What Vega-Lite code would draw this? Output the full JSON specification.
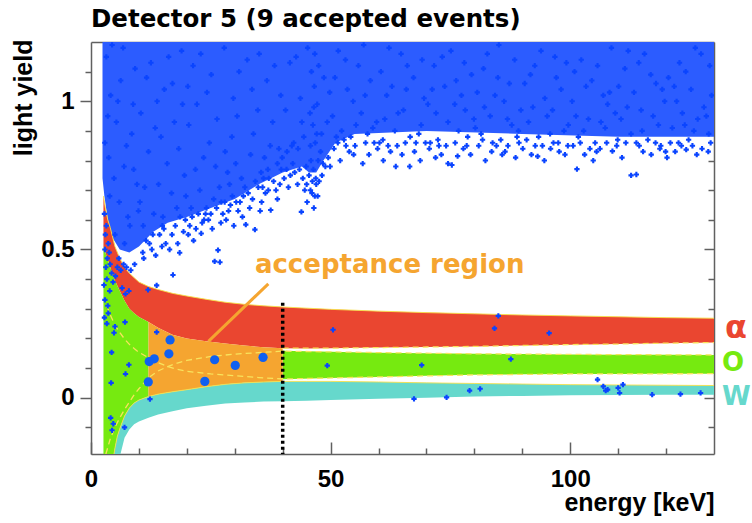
{
  "$schema": "https://vega.github.io/schema/vega-lite/v6.json",
  "width": 623,
  "height": 412,
  "autosize": {"type": "none"},
  "padding": {"left": 91, "top": 42, "right": 38, "bottom": 69},
  "background": "white",
  "title": {
    "text": "Detector 5 (9 accepted events)",
    "anchor": "start",
    "frame": "group",
    "font": "DejaVu Sans",
    "fontSize": 24.5,
    "fontWeight": "bold",
    "color": "#000000",
    "offset": 7
  },
  "config": {
    "view": {"stroke": null},
    "axis": {
      "grid": false,
      "domainColor": "#606060",
      "domainWidth": 1.5,
      "tickColor": "#606060",
      "tickWidth": 1.5,
      "labelFont": "Liberation Sans",
      "labelFontWeight": "bold",
      "labelFontSize": 24,
      "labelColor": "#000000",
      "titleFont": "Liberation Sans",
      "titleFontWeight": "bold",
      "titleFontSize": 25,
      "titleColor": "#000000"
    }
  },
  "datasets": {
    "cloud": [
      {"e": 2.4, "ly": 0.74}, {"e": 2.8, "ly": 0.68}, {"e": 3.5, "ly": 0.6}, {"e": 4.5, "ly": 0.54},
      {"e": 6, "ly": 0.5}, {"e": 8, "ly": 0.49}, {"e": 10, "ly": 0.51}, {"e": 13, "ly": 0.56},
      {"e": 16, "ly": 0.59}, {"e": 20, "ly": 0.61}, {"e": 25, "ly": 0.64}, {"e": 30, "ly": 0.67},
      {"e": 35, "ly": 0.72}, {"e": 40, "ly": 0.76}, {"e": 44, "ly": 0.78}, {"e": 45.5, "ly": 0.76},
      {"e": 47, "ly": 0.76}, {"e": 48.5, "ly": 0.8}, {"e": 51, "ly": 0.86}, {"e": 55, "ly": 0.89},
      {"e": 70, "ly": 0.9}, {"e": 90, "ly": 0.89}, {"e": 110, "ly": 0.88}, {"e": 130, "ly": 0.88}
    ],
    "bands": [
      {"band": "α", "seg": "a", "e": 2.6, "ly": 0.68, "ly2": 0.51},
      {"band": "α", "seg": "a", "e": 3, "ly": 0.64, "ly2": 0.49},
      {"band": "α", "seg": "a", "e": 3.5, "ly": 0.6, "ly2": 0.465},
      {"band": "α", "seg": "a", "e": 4, "ly": 0.575, "ly2": 0.44},
      {"band": "α", "seg": "a", "e": 5, "ly": 0.51, "ly2": 0.395},
      {"band": "α", "seg": "a", "e": 6, "ly": 0.47, "ly2": 0.36},
      {"band": "α", "seg": "a", "e": 7, "ly": 0.44, "ly2": 0.327},
      {"band": "α", "seg": "a", "e": 8, "ly": 0.42, "ly2": 0.3},
      {"band": "α", "seg": "a", "e": 9, "ly": 0.405, "ly2": 0.285},
      {"band": "α", "seg": "a", "e": 10, "ly": 0.39, "ly2": 0.272},
      {"band": "α", "seg": "a", "e": 12, "ly": 0.375, "ly2": 0.255},
      {"band": "α", "seg": "a", "e": 14, "ly": 0.365, "ly2": 0.236},
      {"band": "α", "seg": "a", "e": 17, "ly": 0.352, "ly2": 0.212},
      {"band": "α", "seg": "a", "e": 20, "ly": 0.343, "ly2": 0.2},
      {"band": "α", "seg": "a", "e": 24, "ly": 0.332, "ly2": 0.19},
      {"band": "α", "seg": "a", "e": 28, "ly": 0.322, "ly2": 0.183},
      {"band": "α", "seg": "a", "e": 32, "ly": 0.315, "ly2": 0.176},
      {"band": "α", "seg": "a", "e": 36, "ly": 0.31, "ly2": 0.17},
      {"band": "α", "seg": "a", "e": 40, "ly": 0.306, "ly2": 0.167},
      {"band": "α", "seg": "a", "e": 45, "ly": 0.302, "ly2": 0.166},
      {"band": "α", "seg": "a", "e": 50, "ly": 0.298, "ly2": 0.167},
      {"band": "α", "seg": "a", "e": 60, "ly": 0.292, "ly2": 0.169},
      {"band": "α", "seg": "a", "e": 70, "ly": 0.287, "ly2": 0.171},
      {"band": "α", "seg": "a", "e": 80, "ly": 0.283, "ly2": 0.173},
      {"band": "α", "seg": "a", "e": 90, "ly": 0.279, "ly2": 0.176},
      {"band": "α", "seg": "a", "e": 100, "ly": 0.276, "ly2": 0.179},
      {"band": "α", "seg": "a", "e": 110, "ly": 0.273, "ly2": 0.181},
      {"band": "α", "seg": "a", "e": 120, "ly": 0.27, "ly2": 0.184},
      {"band": "α", "seg": "a", "e": 130, "ly": 0.268, "ly2": 0.186},
      {"band": "O", "seg": "o1", "e": 2.6, "ly": 0.51, "ly2": -0.3},
      {"band": "O", "seg": "o1", "e": 3, "ly": 0.49, "ly2": -0.3},
      {"band": "O", "seg": "o1", "e": 3.5, "ly": 0.465, "ly2": -0.3},
      {"band": "O", "seg": "o1", "e": 4, "ly": 0.44, "ly2": -0.3},
      {"band": "O", "seg": "o1", "e": 4.8, "ly": 0.404, "ly2": -0.19},
      {"band": "O", "seg": "o1", "e": 5, "ly": 0.395, "ly2": -0.17},
      {"band": "O", "seg": "o1", "e": 5.5, "ly": 0.378, "ly2": -0.13},
      {"band": "O", "seg": "o1", "e": 6, "ly": 0.36, "ly2": -0.105},
      {"band": "O", "seg": "o1", "e": 7, "ly": 0.327, "ly2": -0.062},
      {"band": "O", "seg": "o1", "e": 8, "ly": 0.3, "ly2": -0.035},
      {"band": "O", "seg": "o1", "e": 9, "ly": 0.285, "ly2": -0.018},
      {"band": "O", "seg": "o1", "e": 10, "ly": 0.272, "ly2": -0.008},
      {"band": "O", "seg": "o1", "e": 12, "ly": 0.255, "ly2": 0.004},
      {"band": "O", "seg": "o2", "e": 40, "ly": 0.158, "ly2": 0.062},
      {"band": "O", "seg": "o2", "e": 50, "ly": 0.155, "ly2": 0.066},
      {"band": "O", "seg": "o2", "e": 60, "ly": 0.152, "ly2": 0.07},
      {"band": "O", "seg": "o2", "e": 70, "ly": 0.15, "ly2": 0.074},
      {"band": "O", "seg": "o2", "e": 80, "ly": 0.148, "ly2": 0.077},
      {"band": "O", "seg": "o2", "e": 90, "ly": 0.147, "ly2": 0.079},
      {"band": "O", "seg": "o2", "e": 100, "ly": 0.146, "ly2": 0.08},
      {"band": "O", "seg": "o2", "e": 110, "ly": 0.145, "ly2": 0.08},
      {"band": "O", "seg": "o2", "e": 120, "ly": 0.145, "ly2": 0.081},
      {"band": "O", "seg": "o2", "e": 130, "ly": 0.144, "ly2": 0.081},
      {"band": "acc", "seg": "acc", "e": 12, "ly": 0.255, "ly2": 0.004},
      {"band": "acc", "seg": "acc", "e": 14, "ly": 0.236, "ly2": 0.012},
      {"band": "acc", "seg": "acc", "e": 17, "ly": 0.212, "ly2": 0.02},
      {"band": "acc", "seg": "acc", "e": 20, "ly": 0.2, "ly2": 0.027},
      {"band": "acc", "seg": "acc", "e": 24, "ly": 0.19, "ly2": 0.037},
      {"band": "acc", "seg": "acc", "e": 28, "ly": 0.183, "ly2": 0.045},
      {"band": "acc", "seg": "acc", "e": 32, "ly": 0.176, "ly2": 0.05},
      {"band": "acc", "seg": "acc", "e": 36, "ly": 0.17, "ly2": 0.053},
      {"band": "acc", "seg": "acc", "e": 40, "ly": 0.167, "ly2": 0.055},
      {"band": "W", "seg": "w", "e": 4.8, "ly": -0.19, "ly2": -0.3},
      {"band": "W", "seg": "w", "e": 5, "ly": -0.17, "ly2": -0.3},
      {"band": "W", "seg": "w", "e": 5.5, "ly": -0.13, "ly2": -0.26},
      {"band": "W", "seg": "w", "e": 6, "ly": -0.105, "ly2": -0.2},
      {"band": "W", "seg": "w", "e": 7, "ly": -0.062, "ly2": -0.135},
      {"band": "W", "seg": "w", "e": 8, "ly": -0.035, "ly2": -0.107},
      {"band": "W", "seg": "w", "e": 9, "ly": -0.018, "ly2": -0.09},
      {"band": "W", "seg": "w", "e": 10, "ly": -0.008, "ly2": -0.08},
      {"band": "W", "seg": "w", "e": 12, "ly": 0.004, "ly2": -0.068},
      {"band": "W", "seg": "w", "e": 14, "ly": 0.012, "ly2": -0.057},
      {"band": "W", "seg": "w", "e": 17, "ly": 0.02, "ly2": -0.046},
      {"band": "W", "seg": "w", "e": 20, "ly": 0.027, "ly2": -0.036},
      {"band": "W", "seg": "w", "e": 24, "ly": 0.037, "ly2": -0.027},
      {"band": "W", "seg": "w", "e": 28, "ly": 0.045, "ly2": -0.02},
      {"band": "W", "seg": "w", "e": 32, "ly": 0.05, "ly2": -0.016},
      {"band": "W", "seg": "w", "e": 36, "ly": 0.053, "ly2": -0.013},
      {"band": "W", "seg": "w", "e": 40, "ly": 0.055, "ly2": -0.012},
      {"band": "W", "seg": "w", "e": 45, "ly": 0.055, "ly2": -0.01},
      {"band": "W", "seg": "w", "e": 50, "ly": 0.055, "ly2": -0.008},
      {"band": "W", "seg": "w", "e": 60, "ly": 0.053, "ly2": -0.004},
      {"band": "W", "seg": "w", "e": 70, "ly": 0.05, "ly2": 0.0},
      {"band": "W", "seg": "w", "e": 80, "ly": 0.048, "ly2": 0.004},
      {"band": "W", "seg": "w", "e": 90, "ly": 0.046, "ly2": 0.006},
      {"band": "W", "seg": "w", "e": 100, "ly": 0.044, "ly2": 0.008},
      {"band": "W", "seg": "w", "e": 110, "ly": 0.043, "ly2": 0.009},
      {"band": "W", "seg": "w", "e": 120, "ly": 0.042, "ly2": 0.01},
      {"band": "W", "seg": "w", "e": 130, "ly": 0.041, "ly2": 0.01}
    ],
    "dash": [
      {"line": "A", "e": 3.3, "ly": 0.31}, {"line": "A", "e": 4, "ly": 0.28}, {"line": "A", "e": 5, "ly": 0.245},
      {"line": "A", "e": 6, "ly": 0.22}, {"line": "A", "e": 7, "ly": 0.198}, {"line": "A", "e": 8, "ly": 0.18},
      {"line": "A", "e": 9, "ly": 0.166}, {"line": "A", "e": 10, "ly": 0.153}, {"line": "A", "e": 12, "ly": 0.135},
      {"line": "A", "e": 14, "ly": 0.118}, {"line": "A", "e": 16, "ly": 0.105}, {"line": "A", "e": 18, "ly": 0.096},
      {"line": "A", "e": 20, "ly": 0.089}, {"line": "A", "e": 25, "ly": 0.08}, {"line": "A", "e": 30, "ly": 0.074},
      {"line": "A", "e": 35, "ly": 0.068}, {"line": "A", "e": 40, "ly": 0.063}, {"line": "A", "e": 60, "ly": 0.07},
      {"line": "A", "e": 80, "ly": 0.077}, {"line": "A", "e": 100, "ly": 0.08}, {"line": "A", "e": 130, "ly": 0.081},
      {"line": "B", "e": 3.1, "ly": -0.19}, {"line": "B", "e": 4, "ly": -0.14}, {"line": "B", "e": 5, "ly": -0.1},
      {"line": "B", "e": 6, "ly": -0.068}, {"line": "B", "e": 7, "ly": -0.04}, {"line": "B", "e": 8, "ly": -0.015},
      {"line": "B", "e": 9, "ly": 0.01}, {"line": "B", "e": 10, "ly": 0.03}, {"line": "B", "e": 12, "ly": 0.067},
      {"line": "B", "e": 14, "ly": 0.09}, {"line": "B", "e": 16, "ly": 0.105}, {"line": "B", "e": 18, "ly": 0.117},
      {"line": "B", "e": 20, "ly": 0.126}, {"line": "B", "e": 25, "ly": 0.139}, {"line": "B", "e": 30, "ly": 0.147},
      {"line": "B", "e": 35, "ly": 0.152}, {"line": "B", "e": 40, "ly": 0.157}, {"line": "B", "e": 60, "ly": 0.152},
      {"line": "B", "e": 80, "ly": 0.148}, {"line": "B", "e": 100, "ly": 0.146}, {"line": "B", "e": 130, "ly": 0.144},
      {"line": "C", "e": 40, "ly": 0.167}, {"line": "C", "e": 50, "ly": 0.167}, {"line": "C", "e": 60, "ly": 0.169},
      {"line": "C", "e": 70, "ly": 0.171}, {"line": "C", "e": 80, "ly": 0.173}, {"line": "C", "e": 90, "ly": 0.176},
      {"line": "C", "e": 100, "ly": 0.179}, {"line": "C", "e": 110, "ly": 0.181}, {"line": "C", "e": 120, "ly": 0.184},
      {"line": "C", "e": 130, "ly": 0.186}
    ],
    "pts": [
      {"e":2.8,"ly":0.62},{"e":3.0,"ly":0.55},{"e":3.2,"ly":0.58},{"e":2.9,"ly":0.5},{"e":3.4,"ly":0.47},{"e":3.1,"ly":0.44},
      {"e":3.6,"ly":0.52},{"e":3.8,"ly":0.49},{"e":4.0,"ly":0.45},{"e":4.3,"ly":0.42},{"e":3.3,"ly":0.4},{"e":2.7,"ly":0.38},
      {"e":3.9,"ly":0.36},{"e":4.6,"ly":0.39},{"e":5.1,"ly":0.41},{"e":5.5,"ly":0.44},{"e":6.2,"ly":0.43},{"e":5.8,"ly":0.47},
      {"e":6.8,"ly":0.45},{"e":7.4,"ly":0.44},{"e":7.9,"ly":0.36},{"e":7.2,"ly":0.35},{"e":6.5,"ly":0.37},{"e":8.3,"ly":0.43},
      {"e":9.1,"ly":0.45},{"e":2.9,"ly":0.33},{"e":3.5,"ly":0.31},{"e":3.6,"ly":0.285},{"e":2.8,"ly":0.27},{"e":3.3,"ly":0.25},
      {"e":5.0,"ly":0.24},{"e":4.8,"ly":0.219},{"e":7.1,"ly":0.255},{"e":4.3,"ly":0.153},{"e":7.9,"ly":0.111},{"e":7.2,"ly":0.08},
      {"e":4.2,"ly":0.05},{"e":4.1,"ly":-0.068},{"e":4.65,"ly":-0.088},{"e":4.4,"ly":-0.11},{"e":7.0,"ly":-0.1},{"e":12.3,"ly":-0.005},
      {"e":13.7,"ly":0.221},{"e":13.7,"ly":0.379},{"e":11.9,"ly":0.364},
      {"e":3.2,"ly":1.15},{"e":4.1,"ly":1.02},{"e":5.3,"ly":0.93},{"e":6.7,"ly":1.18},{"e":7.4,"ly":0.85},{"e":8.8,"ly":0.99},
      {"e":9.6,"ly":0.72},{"e":3.7,"ly":0.81},{"e":5.9,"ly":0.66},{"e":8.1,"ly":0.58},{"e":4.8,"ly":0.74},{"e":6.2,"ly":1.07},
      {"e":7.7,"ly":0.61},{"e":9.2,"ly":1.11},{"e":3.5,"ly":0.95},{"e":5.0,"ly":0.55},{"e":6.9,"ly":0.78},{"e":8.5,"ly":0.89},
      {"e":9.9,"ly":0.63},{"e":4.4,"ly":1.19},{"e":2.9,"ly":0.86},{"e":7.0,"ly":0.52},{"e":5.6,"ly":1.0},{"e":8.9,"ly":0.77},
      {"e":3.9,"ly":0.68},
      {"e":10.4,"ly":0.96},{"e":11.2,"ly":0.71},{"e":12.5,"ly":1.13},{"e":13.1,"ly":0.62},{"e":14.6,"ly":0.88},{"e":15.3,"ly":1.04},
      {"e":16.8,"ly":0.69},{"e":17.4,"ly":0.93},{"e":18.9,"ly":1.17},{"e":19.5,"ly":0.75},{"e":10.9,"ly":0.58},{"e":12.0,"ly":0.83},
      {"e":13.8,"ly":1.0},{"e":15.9,"ly":0.79},{"e":17.9,"ly":0.64},{"e":19.1,"ly":0.99},{"e":11.6,"ly":1.08},{"e":14.1,"ly":0.72},
      {"e":16.2,"ly":1.15},{"e":18.3,"ly":0.84},{"e":10.2,"ly":0.66},{"e":13.4,"ly":0.91},{"e":15.0,"ly":0.61},{"e":17.0,"ly":1.06},
      {"e":19.8,"ly":0.68},{"e":12.9,"ly":0.55},{"e":14.9,"ly":0.58},{"e":18.6,"ly":0.61},
      {"e":20.4,"ly":0.92},{"e":21.3,"ly":1.12},{"e":22.7,"ly":0.7},{"e":23.5,"ly":0.81},{"e":24.2,"ly":1.03},{"e":25.6,"ly":0.67},
      {"e":26.3,"ly":0.94},{"e":27.8,"ly":1.18},{"e":28.5,"ly":0.76},{"e":29.4,"ly":0.88},{"e":20.9,"ly":0.64},{"e":22.1,"ly":0.99},
      {"e":23.9,"ly":0.62},{"e":25.1,"ly":1.09},{"e":26.8,"ly":0.71},{"e":28.0,"ly":0.83},{"e":29.7,"ly":1.01},{"e":21.8,"ly":0.77},
      {"e":24.7,"ly":0.86},{"e":27.2,"ly":0.66},{"e":20.2,"ly":1.05},{"e":22.9,"ly":1.16},{"e":26.0,"ly":0.78},{"e":28.9,"ly":0.72},
      {"e":23.2,"ly":0.59},{"e":27.5,"ly":0.62},{"e":29.1,"ly":0.65},
      {"e":30.5,"ly":0.95},{"e":31.4,"ly":0.74},{"e":32.6,"ly":1.14},{"e":33.3,"ly":0.82},{"e":34.8,"ly":0.97},{"e":35.5,"ly":0.76},
      {"e":36.7,"ly":1.07},{"e":37.4,"ly":0.85},{"e":38.9,"ly":0.79},{"e":39.6,"ly":1.02},{"e":30.9,"ly":1.1},{"e":32.1,"ly":0.71},
      {"e":33.9,"ly":0.89},{"e":35.1,"ly":1.16},{"e":36.2,"ly":0.81},{"e":37.9,"ly":0.93},{"e":39.2,"ly":0.84},{"e":31.8,"ly":0.68},
      {"e":34.3,"ly":0.73},{"e":38.3,"ly":1.12},{"e":30.2,"ly":0.79},{"e":33.6,"ly":1.04},{"e":36.9,"ly":0.77},{"e":39.9,"ly":0.81},
      {"e":35.8,"ly":0.71},{"e":31.1,"ly":0.66},{"e":37.1,"ly":0.74},
      {"e":40.6,"ly":0.97},{"e":41.5,"ly":1.13},{"e":42.3,"ly":0.86},{"e":43.7,"ly":1.01},{"e":44.4,"ly":0.88},{"e":45.2,"ly":1.18},
      {"e":45.9,"ly":0.8},{"e":46.3,"ly":0.92},{"e":46.6,"ly":1.05},{"e":46.9,"ly":0.74},{"e":47.2,"ly":0.99},{"e":47.5,"ly":1.12},
      {"e":46.1,"ly":0.69},{"e":46.8,"ly":0.86},{"e":45.7,"ly":0.96},{"e":47.9,"ly":0.83},{"e":48.6,"ly":1.08},{"e":49.3,"ly":0.93},
      {"e":40.9,"ly":0.83},{"e":42.8,"ly":1.15},{"e":44.0,"ly":0.93},{"e":48.1,"ly":0.89},{"e":49.8,"ly":1.03},{"e":41.9,"ly":0.85},
      {"e":43.2,"ly":0.84},{"e":44.9,"ly":0.78},{"e":46.4,"ly":0.77},{"e":47.0,"ly":0.72},{"e":46.2,"ly":0.73},{"e":45.5,"ly":0.75},
      {"e":46.0,"ly":1.1},{"e":46.5,"ly":0.98},{"e":47.1,"ly":0.89},{"e":45.8,"ly":0.85},{"e":46.7,"ly":1.16},{"e":47.4,"ly":0.8},
      {"e":50.4,"ly":0.95},{"e":51.6,"ly":1.17},{"e":52.3,"ly":0.9},{"e":53.5,"ly":1.04},{"e":54.2,"ly":0.88},{"e":55.8,"ly":1.12},
      {"e":56.4,"ly":0.96},{"e":57.7,"ly":0.89},{"e":58.3,"ly":1.07},{"e":59.6,"ly":0.93},{"e":50.9,"ly":1.08},{"e":52.8,"ly":0.87},
      {"e":54.7,"ly":1.0},{"e":56.9,"ly":1.19},{"e":58.8,"ly":0.91},{"e":51.2,"ly":0.88},{"e":53.1,"ly":1.14},{"e":55.3,"ly":0.92},
      {"e":57.2,"ly":1.02},{"e":59.1,"ly":0.86},
      {"e":60.5,"ly":1.1},{"e":61.3,"ly":0.94},{"e":62.8,"ly":1.05},{"e":63.4,"ly":0.9},{"e":64.7,"ly":1.16},{"e":65.2,"ly":0.97},
      {"e":66.6,"ly":0.88},{"e":67.3,"ly":1.08},{"e":68.9,"ly":0.92},{"e":69.5,"ly":1.01},{"e":60.9,"ly":0.87},{"e":62.2,"ly":1.18},
      {"e":64.1,"ly":0.96},{"e":66.0,"ly":1.12},{"e":67.8,"ly":0.86},{"e":69.1,"ly":1.14},{"e":61.7,"ly":1.02},{"e":63.9,"ly":0.85},
      {"e":65.8,"ly":1.04},{"e":68.4,"ly":0.89},
      {"e":70.3,"ly":0.99},{"e":71.6,"ly":1.12},{"e":72.4,"ly":0.87},{"e":73.8,"ly":1.05},{"e":74.5,"ly":0.93},{"e":75.1,"ly":1.17},
      {"e":76.7,"ly":0.9},{"e":77.3,"ly":1.02},{"e":78.6,"ly":0.88},{"e":79.4,"ly":1.09},{"e":70.8,"ly":0.86},{"e":72.0,"ly":0.96},
      {"e":73.3,"ly":1.15},{"e":75.9,"ly":0.99},{"e":77.9,"ly":1.13},{"e":79.9,"ly":0.94},{"e":71.2,"ly":1.04},{"e":74.1,"ly":0.85},
      {"e":76.2,"ly":1.07},{"e":78.1,"ly":0.97},
      {"e":80.6,"ly":1.03},{"e":81.4,"ly":0.89},{"e":82.7,"ly":1.16},{"e":83.3,"ly":0.95},{"e":84.9,"ly":1.08},{"e":85.5,"ly":0.87},
      {"e":86.2,"ly":1.0},{"e":87.8,"ly":0.92},{"e":88.4,"ly":1.14},{"e":89.7,"ly":0.97},{"e":80.2,"ly":0.91},{"e":81.9,"ly":1.11},
      {"e":83.8,"ly":0.86},{"e":85.1,"ly":1.19},{"e":86.9,"ly":0.94},{"e":88.9,"ly":0.88},{"e":82.1,"ly":0.98},{"e":84.3,"ly":1.02},
      {"e":87.3,"ly":1.06},{"e":89.2,"ly":0.9},
      {"e":90.5,"ly":1.06},{"e":91.3,"ly":0.93},{"e":92.6,"ly":1.12},{"e":93.4,"ly":0.88},{"e":94.7,"ly":1.01},{"e":95.2,"ly":0.95},
      {"e":96.8,"ly":1.15},{"e":97.5,"ly":0.86},{"e":98.1,"ly":1.04},{"e":99.6,"ly":0.92},{"e":90.9,"ly":0.87},{"e":92.2,"ly":0.98},
      {"e":93.9,"ly":1.17},{"e":95.8,"ly":0.89},{"e":97.1,"ly":1.08},{"e":99.2,"ly":1.13},{"e":91.7,"ly":1.09},{"e":94.2,"ly":0.85},
      {"e":96.3,"ly":0.97},{"e":98.7,"ly":0.9},
      {"e":100.4,"ly":1.0},{"e":101.7,"ly":0.88},{"e":102.3,"ly":1.14},{"e":103.8,"ly":0.94},{"e":104.5,"ly":1.07},{"e":105.2,"ly":0.86},
      {"e":106.9,"ly":1.02},{"e":107.3,"ly":0.91},{"e":108.6,"ly":1.18},{"e":109.4,"ly":0.96},{"e":100.9,"ly":1.1},{"e":102.8,"ly":0.9},
      {"e":104.1,"ly":0.84},{"e":105.7,"ly":1.12},{"e":107.8,"ly":0.99},{"e":109.9,"ly":0.87},{"e":101.2,"ly":0.95},{"e":103.3,"ly":1.05},
      {"e":106.4,"ly":0.93},{"e":108.2,"ly":1.03},
      {"e":110.6,"ly":0.94},{"e":111.4,"ly":1.11},{"e":112.7,"ly":0.89},{"e":113.3,"ly":1.03},{"e":114.8,"ly":0.97},{"e":115.5,"ly":1.16},
      {"e":116.2,"ly":0.87},{"e":117.9,"ly":1.06},{"e":118.4,"ly":0.92},{"e":119.7,"ly":1.0},{"e":110.1,"ly":1.05},{"e":112.1,"ly":1.17},
      {"e":113.8,"ly":0.86},{"e":115.0,"ly":0.9},{"e":116.8,"ly":1.09},{"e":118.9,"ly":0.85},{"e":111.9,"ly":0.98},{"e":114.3,"ly":1.13},
      {"e":117.3,"ly":0.95},{"e":119.2,"ly":1.04},
      {"e":120.5,"ly":1.08},{"e":121.3,"ly":0.91},{"e":122.8,"ly":1.13},{"e":123.4,"ly":0.96},{"e":124.7,"ly":0.87},{"e":125.2,"ly":1.04},
      {"e":126.6,"ly":0.94},{"e":127.3,"ly":1.16},{"e":128.9,"ly":0.89},{"e":129.5,"ly":1.02},{"e":120.9,"ly":0.86},{"e":122.2,"ly":1.0},
      {"e":124.1,"ly":1.1},{"e":125.8,"ly":0.9},{"e":127.9,"ly":0.98},{"e":129.1,"ly":1.12},{"e":121.7,"ly":1.05},{"e":123.9,"ly":0.92},
      {"e":126.1,"ly":1.18},{"e":128.4,"ly":0.95},
      {"e":10.8,"ly":0.49},{"e":11.5,"ly":0.53},{"e":12.7,"ly":0.5},{"e":14.3,"ly":0.55},{"e":15.6,"ly":0.52},{"e":16.4,"ly":0.5},
      {"e":17.1,"ly":0.414},{"e":18.5,"ly":0.489},{"e":19.3,"ly":0.56},{"e":20.6,"ly":0.58},{"e":21.4,"ly":0.53},{"e":23.0,"ly":0.554},
      {"e":24.5,"ly":0.6},{"e":25.3,"ly":0.57},{"e":26.5,"ly":0.498},{"e":26.9,"ly":0.457},{"e":25.8,"ly":0.46},{"e":28.2,"ly":0.6},
      {"e":29.8,"ly":0.58},{"e":30.7,"ly":0.63},{"e":32.3,"ly":0.584},{"e":33.1,"ly":0.64},{"e":34.2,"ly":0.567},{"e":35.6,"ly":0.66},
      {"e":36.4,"ly":0.69},{"e":37.5,"ly":0.633},{"e":38.6,"ly":0.7},{"e":39.4,"ly":0.72},{"e":40.3,"ly":0.74},{"e":41.2,"ly":0.71},
      {"e":42.5,"ly":0.76},{"e":43.9,"ly":0.627},{"e":43.1,"ly":0.72},{"e":44.6,"ly":0.7},{"e":45.1,"ly":0.66},{"e":46.5,"ly":0.64},
      {"e":47.3,"ly":0.68},{"e":48.4,"ly":0.79},{"e":49.5,"ly":0.81},
      {"e":11.0,"ly":0.47},{"e":12.2,"ly":0.52},{"e":13.5,"ly":0.48},{"e":14.8,"ly":0.51},{"e":15.2,"ly":0.57},{"e":16.9,"ly":0.55},
      {"e":17.6,"ly":0.58},{"e":18.1,"ly":0.52},{"e":19.7,"ly":0.6},{"e":20.3,"ly":0.55},{"e":21.1,"ly":0.61},{"e":21.9,"ly":0.57},
      {"e":22.4,"ly":0.62},{"e":23.6,"ly":0.6},{"e":24.1,"ly":0.64},{"e":25.0,"ly":0.62},{"e":26.2,"ly":0.64},{"e":27.1,"ly":0.59},
      {"e":27.9,"ly":0.66},{"e":28.7,"ly":0.63},{"e":29.5,"ly":0.68},{"e":30.3,"ly":0.66},{"e":31.6,"ly":0.61},{"e":32.8,"ly":0.69},
      {"e":33.7,"ly":0.67},{"e":34.9,"ly":0.71},{"e":35.3,"ly":0.63},{"e":36.0,"ly":0.74},{"e":37.0,"ly":0.7},{"e":38.1,"ly":0.73},
      {"e":38.9,"ly":0.67},{"e":39.7,"ly":0.77},{"e":40.8,"ly":0.77},{"e":41.6,"ly":0.75},{"e":42.1,"ly":0.79},{"e":43.5,"ly":0.77},
      {"e":44.2,"ly":0.74},{"e":45.0,"ly":0.72},{"e":45.8,"ly":0.7},{"e":46.7,"ly":0.68},{"e":47.6,"ly":0.73},{"e":48.2,"ly":0.75},
      {"e":48.9,"ly":0.78},{"e":49.9,"ly":0.78},
      {"e":50.7,"ly":0.84},{"e":52.0,"ly":0.8},{"e":53.9,"ly":0.83},{"e":55.1,"ly":0.85},{"e":56.7,"ly":0.79},{"e":58.0,"ly":0.82},
      {"e":59.8,"ly":0.84},{"e":61.0,"ly":0.8},{"e":62.5,"ly":0.83},{"e":63.6,"ly":0.78},{"e":64.9,"ly":0.82},{"e":66.5,"ly":0.78},
      {"e":67.5,"ly":0.83},{"e":68.7,"ly":0.8},{"e":70.6,"ly":0.84},{"e":71.9,"ly":0.81},{"e":73.1,"ly":0.82},{"e":74.5,"ly":0.79},
      {"e":75.3,"ly":0.785},{"e":76.5,"ly":0.815},{"e":77.7,"ly":0.84},{"e":79.2,"ly":0.82},{"e":80.9,"ly":0.85},{"e":82.3,"ly":0.8},
      {"e":83.6,"ly":0.83},{"e":85.8,"ly":0.82},{"e":87.0,"ly":0.85},{"e":88.6,"ly":0.81},{"e":90.1,"ly":0.84},{"e":91.9,"ly":0.82},
      {"e":93.2,"ly":0.814},{"e":94.6,"ly":0.8},{"e":95.9,"ly":0.84},{"e":97.7,"ly":0.83},{"e":98.9,"ly":0.82},{"e":100.6,"ly":0.85},
      {"e":101.4,"ly":0.771},{"e":103.0,"ly":0.82},{"e":104.8,"ly":0.8},{"e":106.2,"ly":0.84},{"e":108.8,"ly":0.832},{"e":110.8,"ly":0.81},
      {"e":112.7,"ly":0.75},{"e":113.8,"ly":0.753},{"e":115.2,"ly":0.83},{"e":116.9,"ly":0.82},{"e":118.7,"ly":0.84},{"e":120.2,"ly":0.81},
      {"e":121.9,"ly":0.83},{"e":123.2,"ly":0.85},{"e":124.2,"ly":0.837},{"e":126.4,"ly":0.82},{"e":127.5,"ly":0.84},{"e":128.8,"ly":0.83},
      {"e":51.5,"ly":0.86},{"e":53.2,"ly":0.85},{"e":54.8,"ly":0.82},{"e":57.3,"ly":0.86},{"e":60.2,"ly":0.86},{"e":62.0,"ly":0.85},
      {"e":65.6,"ly":0.86},{"e":69.8,"ly":0.86},{"e":72.6,"ly":0.85},{"e":76.0,"ly":0.86},{"e":78.4,"ly":0.85},{"e":81.7,"ly":0.87},
      {"e":84.6,"ly":0.85},{"e":86.4,"ly":0.83},{"e":89.3,"ly":0.86},{"e":92.7,"ly":0.85},{"e":96.5,"ly":0.86},{"e":99.5,"ly":0.85},
      {"e":102.1,"ly":0.86},{"e":105.5,"ly":0.83},{"e":107.6,"ly":0.86},{"e":109.7,"ly":0.85},{"e":111.6,"ly":0.86},{"e":114.4,"ly":0.85},
      {"e":117.8,"ly":0.86},{"e":119.9,"ly":0.83},{"e":122.6,"ly":0.86},{"e":125.5,"ly":0.85},{"e":129.3,"ly":0.86},
      {"e":50.5,"ly":0.229},{"e":49.3,"ly":0.108},{"e":69.0,"ly":0.11},{"e":67.4,"ly":-0.004},{"e":74.2,"ly":0.001},{"e":79.0,"ly":0.024},
      {"e":81.2,"ly":0.03},{"e":84.2,"ly":0.234},{"e":85.0,"ly":0.276},{"e":95.6,"ly":0.218},{"e":87.6,"ly":0.13},{"e":105.7,"ly":0.061},
      {"e":106.9,"ly":0.038},{"e":107.4,"ly":0.024},{"e":107.8,"ly":0.027},{"e":110.0,"ly":0.033},{"e":110.3,"ly":0.016},{"e":111.0,"ly":0.044},
      {"e":117.1,"ly":0.01},{"e":123.0,"ly":0.012},{"e":127.2,"ly":0.016}
    ],
    "accepted": [
      {"e": 16.5, "ly": 0.195}, {"e": 16.25, "ly": 0.148}, {"e": 13.2, "ly": 0.131},
      {"e": 12.15, "ly": 0.122}, {"e": 11.95, "ly": 0.053}, {"e": 23.75, "ly": 0.055},
      {"e": 25.8, "ly": 0.128}, {"e": 30.1, "ly": 0.109}, {"e": 35.9, "ly": 0.136}
    ]
  },
  "layer": [
    {
      "data": {"name": "cloud"},
      "mark": {"type": "area", "color": "#2c5cff", "opacity": 1, "clip": true},
      "encoding": {
        "x": {"field": "e", "type": "quantitative", "scale": {"domain": [0, 130], "nice": false, "zero": false},
              "axis": {"orient": "bottom", "values": [0, 50, 100], "format": "d", "ticks": false, "labelPadding": 13,
                       "labelFlush": false, "domain": true, "title": "energy [keV]", "titleX": 623, "titleY": 56,
                       "titleAlign": "right", "titleBaseline": "alphabetic"}},
        "y": {"field": "ly", "type": "quantitative", "scale": {"domain": [-0.19, 1.2], "nice": false, "zero": false},
              "axis": {"orient": "left", "values": [0, 0.5, 1], "format": "~g", "ticks": false, "labelPadding": 17,
                       "labelFlush": false, "domain": true, "title": "light yield", "titleX": -60, "titleY": -3,
                       "titleAngle": -90, "titleAlign": "right", "titleBaseline": "alphabetic"}},
        "y2": {"datum": 1.2}
      }
    },
    {
      "data": {"name": "bands"},
      "mark": {"type": "area", "clip": true, "opacity": 1},
      "encoding": {
        "x": {"field": "e", "type": "quantitative", "scale": {"domain": [0, 130], "nice": false, "zero": false},
              "axis": {"orient": "bottom", "values": [0, 50, 100], "labels": false, "tickSize": -12, "domain": false, "title": null}},
        "y": {"field": "ly", "type": "quantitative", "stack": null, "scale": {"domain": [-0.19, 1.2], "nice": false, "zero": false},
              "axis": {"orient": "left", "values": [0, 0.5, 1], "labels": false, "tickSize": 11, "domain": false, "title": null}},
        "y2": {"field": "ly2"},
        "color": {"field": "band", "type": "nominal",
                  "scale": {"domain": ["α", "O", "W", "acc"], "range": ["#ea4630", "#76ea10", "#66d8cc", "#f5a530"]},
                  "legend": null},
        "detail": {"field": "seg"}
      }
    },
    {
      "data": {"name": "bands"},
      "transform": [{"filter": "datum.seg === 'a' || datum.seg === 'w'"}],
      "mark": {"type": "line", "color": "#f6e04a", "strokeWidth": 1, "opacity": 0.9, "clip": true},
      "encoding": {
        "x": {"field": "e", "type": "quantitative", "scale": {"domain": [0, 130], "nice": false, "zero": false}, "axis": null},
        "y": {"field": "ly", "type": "quantitative", "scale": {"domain": [-0.19, 1.2], "nice": false, "zero": false}, "axis": null},
        "detail": {"field": "seg"}
      }
    },
    {
      "data": {"name": "dash"},
      "mark": {"type": "line", "strokeDash": [6, 4], "strokeWidth": 1.3, "color": "#f8e35c", "clip": true},
      "encoding": {
        "x": {"field": "e", "type": "quantitative", "scale": {"domain": [0, 130], "nice": false, "zero": false},
              "axis": {"orient": "bottom", "values": [10, 20, 30, 40, 60, 70, 80, 90, 110, 120], "labels": false, "tickSize": -6, "domain": false, "title": null}},
        "y": {"field": "ly", "type": "quantitative", "scale": {"domain": [-0.19, 1.2], "nice": false, "zero": false},
              "axis": {"orient": "left", "values": [-0.1, 0.1, 0.2, 0.3, 0.4, 0.6, 0.7, 0.8, 0.9, 1.1], "labels": false, "tickSize": 6, "domain": false, "title": null}},
        "detail": {"field": "line"}
      }
    },
    {
      "data": {"name": "pts"},
      "mark": {"type": "point", "shape": "cross", "filled": true, "size": 28, "color": "#0a44ff", "opacity": 1, "clip": true},
      "encoding": {
        "x": {"field": "e", "type": "quantitative", "scale": {"domain": [0, 130], "nice": false, "zero": false},
              "axis": {"orient": "top", "values": [10, 20, 30, 40, 50, 60, 70, 80, 90, 100, 110, 120], "labels": false, "tickSize": -6, "domain": true, "title": null}},
        "y": {"field": "ly", "type": "quantitative", "scale": {"domain": [-0.19, 1.2], "nice": false, "zero": false},
              "axis": {"orient": "right", "values": [-0.1, 0.1, 0.2, 0.3, 0.4, 0.6, 0.7, 0.8, 0.9, 1.1], "labels": false, "tickSize": -6, "domain": true, "title": null}}
      }
    },
    {
      "data": {"values": [{"e": 40, "ly": 0.32, "ly2": -0.19}]},
      "mark": {"type": "rule", "color": "#000000", "strokeWidth": 3.5, "strokeDash": [3, 3]},
      "encoding": {
        "x": {"field": "e", "type": "quantitative", "scale": {"domain": [0, 130], "nice": false, "zero": false}, "axis": null},
        "y": {"field": "ly", "type": "quantitative", "scale": {"domain": [-0.19, 1.2], "nice": false, "zero": false},
              "axis": {"orient": "right", "values": [0, 0.5, 1], "labels": false, "tickSize": -10, "domain": false, "title": null}},
        "y2": {"field": "ly2"}
      }
    },
    {
      "data": {"name": "accepted"},
      "mark": {"type": "circle", "size": 85, "color": "#1060f0", "opacity": 1},
      "encoding": {
        "x": {"field": "e", "type": "quantitative", "scale": {"domain": [0, 130], "nice": false, "zero": false}, "axis": null},
        "y": {"field": "ly", "type": "quantitative", "scale": {"domain": [-0.19, 1.2], "nice": false, "zero": false}, "axis": null}
      }
    },
    {
      "data": {"values": [{"e": 24.5, "ly": 0.19, "e2": 37, "ly2": 0.384}]},
      "mark": {"type": "rule", "color": "#f5a530", "strokeWidth": 3},
      "encoding": {
        "x": {"field": "e", "type": "quantitative", "scale": {"domain": [0, 130], "nice": false, "zero": false}, "axis": null},
        "y": {"field": "ly", "type": "quantitative", "scale": {"domain": [-0.19, 1.2], "nice": false, "zero": false}, "axis": null},
        "x2": {"field": "e2"},
        "y2": {"field": "ly2"}
      }
    },
    {
      "data": {"values": [{"e": 34.2, "ly": 0.42, "txt": "acceptance region"}]},
      "mark": {"type": "text", "font": "DejaVu Sans", "fontWeight": "bold", "fontSize": 26, "align": "left", "baseline": "alphabetic", "color": "#f5a530"},
      "encoding": {
        "x": {"field": "e", "type": "quantitative", "scale": {"domain": [0, 130], "nice": false, "zero": false}, "axis": null},
        "y": {"field": "ly", "type": "quantitative", "scale": {"domain": [-0.19, 1.2], "nice": false, "zero": false}, "axis": null},
        "text": {"field": "txt"}
      }
    },
    {
      "data": {"values": [{"band": "α", "e": 130, "ly": 0.202}]},
      "mark": {"type": "text", "font": "DejaVu Sans", "fontWeight": "bold", "fontSize": 32, "align": "left", "baseline": "alphabetic", "dx": 11, "clip": false},
      "encoding": {
        "x": {"field": "e", "type": "quantitative", "scale": {"domain": [0, 130], "nice": false, "zero": false}, "axis": null},
        "y": {"field": "ly", "type": "quantitative", "scale": {"domain": [-0.19, 1.2], "nice": false, "zero": false}, "axis": null},
        "text": {"field": "band"},
        "color": {"field": "band", "type": "nominal",
                  "scale": {"domain": ["α", "O", "W", "acc"], "range": ["#ea4630", "#76ea10", "#66d8cc", "#f5a530"]},
                  "legend": null}
      }
    },
    {
      "data": {"values": [
        {"band": "O", "e": 130, "ly": 0.09},
        {"band": "W", "e": 130, "ly": -0.025}
      ]},
      "mark": {"type": "text", "font": "DejaVu Sans", "fontWeight": "bold", "fontSize": 26, "align": "left", "baseline": "alphabetic", "dx": 8, "clip": false},
      "encoding": {
        "x": {"field": "e", "type": "quantitative", "scale": {"domain": [0, 130], "nice": false, "zero": false}, "axis": null},
        "y": {"field": "ly", "type": "quantitative", "scale": {"domain": [-0.19, 1.2], "nice": false, "zero": false}, "axis": null},
        "text": {"field": "band"},
        "color": {"field": "band", "type": "nominal",
                  "scale": {"domain": ["α", "O", "W", "acc"], "range": ["#ea4630", "#76ea10", "#66d8cc", "#f5a530"]},
                  "legend": null}
      }
    }
  ],
  "resolve": {"axis": {"x": "independent", "y": "independent"}}
}
